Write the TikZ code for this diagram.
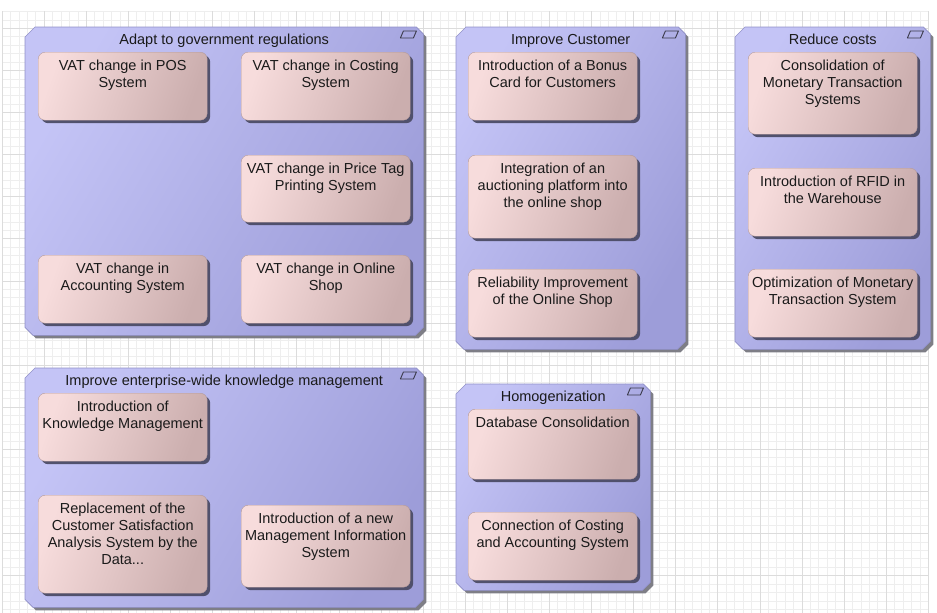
\documentclass[tikz,border=0pt]{standalone}
\usepackage{fontspec}
\setmainfont{Liberation Sans}
\usetikzlibrary{shadows}
\definecolor{gridminor}{HTML}{EEEEEE}
\definecolor{gridmajor}{HTML}{DCDCDC}
\definecolor{grpL}{HTML}{C4C4F6}
\definecolor{grpR}{HTML}{9D9DD9}
\definecolor{grpLine}{HTML}{9090C8}
\definecolor{grpShadow}{HTML}{7E7E86}
\definecolor{itemL}{HTML}{F7DCDC}
\definecolor{itemR}{HTML}{CBAEAE}
\definecolor{itemLine}{HTML}{B49A9A}
\definecolor{itemShadow}{HTML}{4C4C66}
\definecolor{txtc}{HTML}{1A1A1A}
\definecolor{iconc}{HTML}{3A3A4A}
\tikzset{
  grp/.style={rectangle, anchor=north west, inner sep=0pt, draw=none},
  grpbody/.style={draw=grpLine, line width=0.6pt,
    left color=grpL, right color=grpR, shading angle=60,
    drop shadow={shadow xshift=3pt, shadow yshift=-3pt, fill=grpShadow, opacity=1}},
  item/.style={rectangle, rounded corners=7pt, anchor=north west, inner sep=0pt,
    minimum width=169pt, draw=itemLine, line width=0.4pt,
    left color=itemL, right color=itemR, shading angle=70,
    drop shadow={shadow xshift=3pt, shadow yshift=-3pt, fill=itemShadow, opacity=0.95}},
  itxt/.style={anchor=north, inner sep=0pt, align=center, text=txtc,
    font=\fontsize{14.5}{17}\selectfont},
  gtitle/.style={anchor=base, inner sep=0pt, text=txtc, font=\fontsize{14.5}{17}\selectfont},
  iconline/.style={draw=iconc, line width=0.9pt, line join=round},
}
\begin{document}
\begin{tikzpicture}[x=1pt,y=-1pt]
\useasboundingbox (0,0) rectangle (937,613);
% grid
\foreach \k [evaluate=\k as \xx using 2+8.42*\k] in {0,...,110}
  \draw[gridminor, line width=0.5pt] (\xx,11.4) -- (\xx,613);
\foreach \j [evaluate=\j as \yy using 11.4+8.42*\j] in {0,...,71}
  \draw[gridminor, line width=0.5pt] (2,\yy) -- (928.2,\yy);
\foreach \k [evaluate=\k as \xx using 2+8.42*\k] in {0,5,...,110}
  \draw[gridmajor, line width=0.5pt] (\xx,11.4) -- (\xx,613);
\foreach \j [evaluate=\j as \yy using 11.4+8.42*\j] in {2,7,...,67}
  \draw[gridmajor, line width=0.5pt] (2,\yy) -- (928.2,\yy);

% groups (named frames)
\node[grp, minimum width=398pt, minimum height=308pt] (g1) at (25,27) {};
\node[grp, minimum width=229pt, minimum height=322pt] (g2) at (456,27) {};
\node[grp, minimum width=195pt, minimum height=322pt] (g3) at (735,27) {};
\node[grp, minimum width=398pt, minimum height=239pt] (g4) at (25,368) {};
\node[grp, minimum width=194pt, minimum height=206pt] (g5) at (456,384) {};

\foreach \g in {g1,g2,g3,g4,g5}{
  \path[grpbody] ([xshift=10pt]\g.north west) -- ([xshift=-7pt]\g.north east)
    -- ([yshift=-7pt]\g.north east) -- ([yshift=8pt]\g.south east)
    -- ([xshift=-8pt]\g.south east) -- ([xshift=8pt]\g.south west)
    -- ([yshift=8pt]\g.south west) -- ([yshift=-10pt]\g.north west) -- cycle;
  \draw[iconline] ([shift={(-20pt,-4pt)}]\g.north east) -- ++(13pt,0pt) -- ++(-3pt,-7pt) -- ++(-13pt,0pt) -- cycle;
}

\node[gtitle] (t1) at ([yshift=-17pt]g1.north) {Adapt to government regulations};
\node[gtitle] (t2) at ([yshift=-17pt]g2.north) {Improve Customer};
\node[gtitle] (t3) at ([yshift=-17pt]g3.north) {Reduce costs};
\node[gtitle] (t4) at ([yshift=-17pt]g4.north) {Improve enterprise-wide knowledge management};
\node[gtitle] (t5) at ([yshift=-17pt]g5.north) {Homogenization};

% items
\node[item, minimum height=68pt] (a1) at (38,52) {};
\node[item, minimum height=68pt] (a2) at (241,52) {};
\node[item, minimum height=67pt] (a3) at (241,155) {};
\node[item, minimum height=68pt] (a4) at (38,255) {};
\node[item, minimum height=68pt] (a5) at (241,255) {};

\node[item, minimum height=68pt] (b1) at (468,52) {};
\node[item, minimum height=83pt] (b2) at (468,155) {};
\node[item, minimum height=68pt] (b3) at (468,269) {};

\node[item, minimum height=82pt] (c1) at (748,52) {};
\node[item, minimum height=68pt] (c2) at (748,168) {};
\node[item, minimum height=68pt] (c3) at (748,269) {};

\node[item, minimum height=68pt] (d1) at (38,393) {};
\node[item, minimum height=98pt] (d2) at (38,495) {};
\node[item, minimum height=82pt] (d3) at (241,505) {};

\node[item, minimum height=70pt] (e1) at (468,409) {};
\node[item, minimum height=68pt] (e2) at (468,512) {};

% item texts
\node[itxt] (ta1) at ([yshift=-7.5pt]a1.north) {VAT change in POS\\System};
\node[itxt] (ta2) at ([yshift=-7.5pt]a2.north) {VAT change in Costing\\System};
\node[itxt] (ta3) at ([yshift=-7.5pt]a3.north) {VAT change in Price Tag\\Printing System};
\node[itxt] (ta4) at ([yshift=-7.5pt]a4.north) {VAT change in\\Accounting System};
\node[itxt] (ta5) at ([yshift=-7.5pt]a5.north) {VAT change in Online\\Shop};
\node[itxt] (tb1) at ([yshift=-7.5pt]b1.north) {Introduction of a Bonus\\Card for Customers};
\node[itxt] (tb2) at ([yshift=-7.5pt]b2.north) {Integration of an\\auctioning platform into\\the online shop};
\node[itxt] (tb3) at ([yshift=-7.5pt]b3.north) {Reliability Improvement\\of the Online Shop};
\node[itxt] (tc1) at ([yshift=-7.5pt]c1.north) {Consolidation of\\Monetary Transaction\\Systems};
\node[itxt] (tc2) at ([yshift=-7.5pt]c2.north) {Introduction of RFID in\\the Warehouse};
\node[itxt] (tc3) at ([yshift=-7.5pt]c3.north) {Optimization of Monetary\\Transaction System};
\node[itxt] (td1) at ([yshift=-7.5pt]d1.north) {Introduction of\\Knowledge Management};
\node[itxt] (td2) at ([yshift=-7.5pt]d2.north) {Replacement of the\\Customer Satisfaction\\Analysis System by the\\Data...};
\node[itxt] (td3) at ([yshift=-7.5pt]d3.north) {Introduction of a new\\Management Information\\System};
\node[itxt] (te1) at ([yshift=-7.5pt]e1.north) {Database Consolidation};
\node[itxt] (te2) at ([yshift=-7.5pt]e2.north) {Connection of Costing\\and Accounting System};
\end{tikzpicture}
\end{document}
